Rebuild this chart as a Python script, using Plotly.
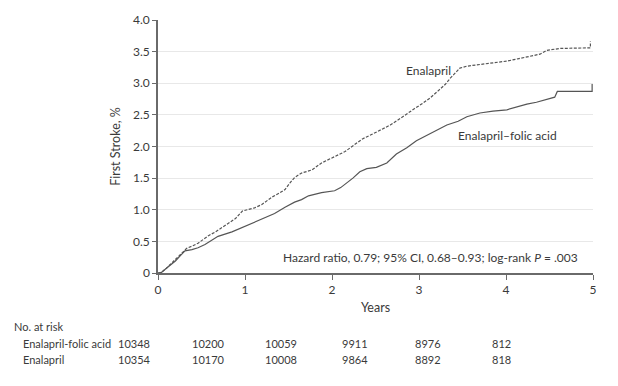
import plotly.graph_objects as go

# ---- data ----
years_enalapril = [0, 0.04, 0.1, 0.16, 0.22, 0.27, 0.33, 0.4, 0.46, 0.52, 0.58, 0.66, 0.73, 0.81,
                   0.89, 0.97, 1.04, 1.11, 1.19, 1.25, 1.31, 1.39, 1.46, 1.52, 1.57, 1.65, 1.77,
                   1.88, 1.96, 2.03, 2.15, 2.25, 2.35, 2.47, 2.57, 2.67, 2.77, 2.86, 2.95, 3.04,
                   3.13, 3.22, 3.30, 3.36, 3.42, 3.47, 3.55, 3.65, 3.78, 3.9, 4.01, 4.15, 4.28,
                   4.39, 4.47, 4.62, 4.97, 4.97]
stroke_enalapril = [0, 0.01, 0.08, 0.16, 0.24, 0.32, 0.39, 0.43, 0.47, 0.53, 0.59, 0.65, 0.71, 0.78,
                    0.86, 0.98, 1.01, 1.03, 1.08, 1.14, 1.20, 1.26, 1.32, 1.43, 1.51, 1.58, 1.63,
                    1.74, 1.79, 1.84, 1.92, 2.02, 2.12, 2.20, 2.27, 2.34, 2.43, 2.52, 2.60, 2.68,
                    2.77, 2.88, 2.98, 3.08, 3.16, 3.24, 3.27, 3.29, 3.31, 3.33, 3.35, 3.39, 3.43,
                    3.46, 3.52, 3.55, 3.56, 3.66]

years_folic = [0, 0.04, 0.1, 0.2, 0.26, 0.31, 0.39, 0.46, 0.54, 0.62, 0.69, 0.85, 0.95, 1.04,
               1.14, 1.23, 1.34, 1.46, 1.57, 1.65, 1.73, 1.88, 2.03, 2.1, 2.15, 2.24, 2.32, 2.40,
               2.51, 2.63, 2.74, 2.86, 2.97, 3.1, 3.24, 3.32, 3.45, 3.55, 3.70, 3.85, 4.01, 4.13,
               4.24, 4.35, 4.51, 4.56, 4.59, 4.99, 4.99]
stroke_folic = [0, 0.01, 0.08, 0.19, 0.28, 0.35, 0.37, 0.40, 0.45, 0.52, 0.58, 0.65, 0.71, 0.76,
                0.82, 0.88, 0.94, 1.04, 1.12, 1.16, 1.22, 1.27, 1.30, 1.35, 1.40, 1.50, 1.60, 1.65,
                1.67, 1.74, 1.88, 1.98, 2.09, 2.18, 2.29, 2.34, 2.40, 2.47, 2.53, 2.56, 2.58, 2.63,
                2.67, 2.70, 2.76, 2.78, 2.87, 2.87, 2.99]

x_tick_vals = [0, 1, 2, 3, 4, 5]
x_tick_text = ["0", "1", "2", "3", "4", "5"]
y_tick_vals = [0, 0.5, 1.0, 1.5, 2.0, 2.5, 3.0, 3.5, 4.0]
y_tick_text = ["0", "0.5", "1.0", "1.5", "2.0", "2.5", "3.0", "3.5", "4.0"]

risk_groups = ["Enalapril-folic acid", "Enalapril"]
risk_folic = ["10348", "10200", "10059", "9911", "8976", "812"]
risk_enalapril = ["10354", "10170", "10008", "9864", "8892", "818"]

hazard_text = "Hazard ratio, 0.79; 95% CI, 0.68–0.93; log-rank <i>P</i> = .003"

# ---- layout helpers (pixel geometry) ----
W, H = 618, 386
L, R, T, B = 158, 25, 15, 113
PW, PH = W - L - R, H - T - B


def px(x):
    return (x - L) / PW


def py(y):
    return (H - B - y) / PH


FONT = "Lato, sans-serif"
FS = 12
FS_TABLE = 11
TXT = "#3a3a3a"
LINE = "#555555"

fig = go.Figure()
fig.add_trace(go.Scatter(x=years_enalapril, y=stroke_enalapril, mode="lines",
                         line=dict(color=LINE, width=1.2, dash="3px,1.5px"), cliponaxis=False,
                         name="Enalapril", showlegend=False, hoverinfo="skip"))
fig.add_trace(go.Scatter(x=years_folic, y=stroke_folic, mode="lines",
                         line=dict(color=LINE, width=1.2), cliponaxis=False,
                         name="Enalapril-folic acid", showlegend=False, hoverinfo="skip"))


def txt(x, y, text, anchor="center", size=FS):
    return dict(x=px(x), y=py(y), xref="paper", yref="paper", text=text, showarrow=False,
                xanchor=anchor, yanchor="middle", font=dict(size=size, color=TXT, family=FONT))


ann = [txt(428, 67, "Enalapril"),
       txt(507, 133, "Enalapril–folic acid"),
       txt(430, 257, hazard_text),
       txt(12, 328, "No. at risk", "left", FS_TABLE)]

row_y = [345, 361]
col_x = [134, 208, 281, 355, 428, 501]
for gi, (g, vals) in enumerate(zip(risk_groups, [risk_folic, risk_enalapril])):
    ann.append(txt(21, row_y[gi], g, "left", FS_TABLE))
    for cx, v in zip(col_x, vals):
        ann.append(txt(cx, row_y[gi], v, "center", FS_TABLE))

fig.update_layout(
    width=W, height=H,
    margin=dict(l=L, r=R, t=T, b=B, pad=0),
    paper_bgcolor="white", plot_bgcolor="white",
    font=dict(family=FONT, color=TXT, size=FS),
    annotations=ann,
    xaxis=dict(range=[0, 5], tickvals=x_tick_vals, ticktext=x_tick_text, showgrid=False, zeroline=False,
               showline=True, linecolor="#6a6a6a", linewidth=1.5, ticks="outside", ticklen=5,
               tickcolor="#6a6a6a", tickfont=dict(size=FS, color=TXT, family=FONT),
               title=dict(text="Years", font=dict(size=12.5, color=TXT, family=FONT), standoff=7)),
    yaxis=dict(range=[0, 4], tickvals=y_tick_vals, ticktext=y_tick_text, showgrid=True, gridcolor="#e8e8e8",
               gridwidth=1, zeroline=False, showline=True, linecolor="#6a6a6a", linewidth=1.5,
               ticks="outside", ticklen=4, tickcolor="#6a6a6a",
               tickfont=dict(size=FS, color=TXT, family=FONT),
               title=dict(text="First Stroke, %", font=dict(size=12.5, color=TXT, family=FONT), standoff=10)),
)

fig.write_html("out.html", config={"displayModeBar": False},
               post_script="document.body.style.margin='0';document.body.style.padding='0';")
